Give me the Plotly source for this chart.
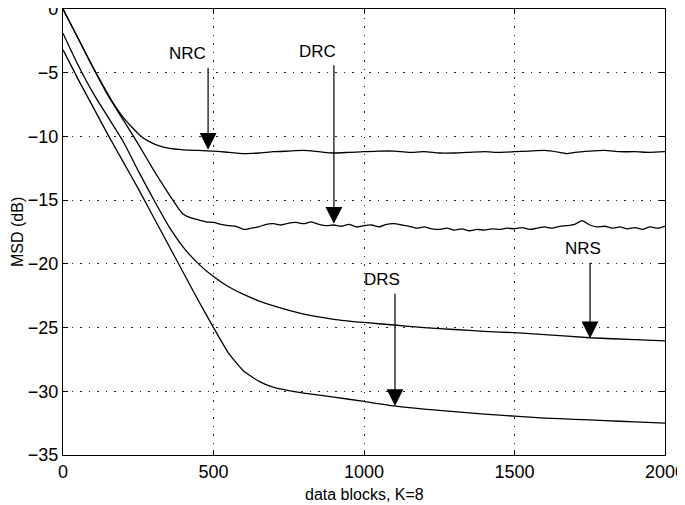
import plotly.graph_objects as go

# ---------------- data ----------------
nrc_x = [0, 50, 100, 140, 170, 200, 230, 260, 290, 320, 350, 400, 450, 500, 550, 600, 650,
         700, 750, 800, 850, 900, 950, 1000, 1050, 1100, 1150, 1200, 1250, 1300, 1350, 1400,
         1450, 1500, 1550, 1600, 1650, 1675, 1700, 1750, 1800, 1850, 1900, 1950, 2000]
nrc_y = [0.0, -2.3, -4.6, -6.3, -7.5, -8.5, -9.3, -10.0, -10.45, -10.75, -10.92, -11.05, -11.1,
         -11.15, -11.25, -11.35, -11.3, -11.2, -11.15, -11.1, -11.2, -11.3, -11.25, -11.2, -11.15,
         -11.15, -11.25, -11.2, -11.3, -11.3, -11.25, -11.2, -11.25, -11.2, -11.15, -11.1, -11.25,
         -11.35, -11.25, -11.15, -11.1, -11.2, -11.2, -11.25, -11.2]

drc_x = [0, 50, 100, 150, 200, 250, 300, 340, 365, 385, 400, 425, 450, 475, 500, 525, 550, 575,
         600, 625, 650, 675, 700, 725, 750, 775, 800, 825, 850, 875, 900, 925, 950, 975, 1000,
         1025, 1050, 1075, 1100, 1125, 1150, 1175, 1200, 1225, 1250, 1275, 1300, 1325, 1350,
         1375, 1400, 1425, 1450, 1475, 1500, 1525, 1550, 1575, 1600, 1625, 1650, 1675, 1700,
         1725, 1750, 1775, 1800, 1825, 1850, 1875, 1900, 1925, 1950, 1975, 2000]
drc_y = [0.0, -2.3, -4.6, -6.8, -8.7, -10.6, -12.6, -14.1, -15.0, -15.7, -16.1, -16.4, -16.55,
         -16.7, -16.75, -16.9, -17.0, -17.05, -17.3, -17.2, -17.1, -16.9, -16.85, -16.95, -16.8,
         -16.75, -16.85, -16.7, -16.9, -17.0, -16.95, -17.05, -16.9, -17.1, -17.0, -16.95, -17.1,
         -16.9, -16.85, -16.95, -17.05, -17.2, -17.1, -17.25, -17.3, -17.2, -17.35, -17.25,
         -17.4, -17.3, -17.35, -17.25, -17.3, -17.2, -17.25, -17.15, -17.3, -17.2, -17.1, -17.2,
         -17.05, -17.0, -16.9, -16.6, -16.95, -17.1, -17.05, -17.2, -17.1, -17.25, -17.15, -17.3,
         -17.1, -17.2, -17.05]

nrs_x = [0, 50, 100, 150, 200, 250, 300, 350, 400, 450, 500, 550, 600, 650, 700, 800, 900,
         1000, 1100, 1200, 1300, 1400, 1500, 1600, 1750, 1900, 2000]
nrs_y = [-1.9, -4.4, -6.6, -8.5, -10.4, -12.7, -14.9, -17.0, -18.7, -20.0, -21.0, -21.8, -22.4,
         -22.9, -23.3, -23.95, -24.35, -24.6, -24.8, -25.0, -25.15, -25.3, -25.4, -25.55, -25.8,
         -25.95, -26.05]

drs_x = [0, 50, 100, 150, 200, 250, 300, 350, 400, 450, 500, 550, 600, 650, 700, 750, 800,
         900, 1000, 1100, 1200, 1300, 1400, 1500, 1600, 1700, 1800, 1900, 2000]
drs_y = [-3.2, -5.5, -7.7, -9.9, -12.0, -14.1, -16.3, -18.5, -20.7, -22.9, -25.0, -27.0, -28.4,
         -29.2, -29.7, -29.95, -30.15, -30.45, -30.8, -31.15, -31.4, -31.6, -31.8, -31.95, -32.1,
         -32.2, -32.3, -32.4, -32.5]

x_ticks = [0, 500, 1000, 1500, 2000]
y_ticks = [0, -5, -10, -15, -20, -25, -30, -35]

x_title = "data blocks, K=8"
y_title = "MSD (dB)"

# label: (text, label_x, label_y, arrow_x, tail_y, tip_y)
labels = [
    ("NRC", 415, -3.5, 482, -4.5, -11.05),
    ("DRC", 847, -3.35, 900, -4.3, -16.85),
    ("NRS", 1728, -18.8, 1751, -19.8, -25.85),
    ("DRS", 1060, -21.2, 1103, -22.2, -31.15),
]

# ---------------- figure ----------------
fig = go.Figure()
line_style = dict(color="black", width=1.3)
for xs, ys, name in [(nrc_x, nrc_y, "NRC"), (drc_x, drc_y, "DRC"),
                     (nrs_x, nrs_y, "NRS"), (drs_x, drs_y, "DRS")]:
    fig.add_trace(go.Scatter(x=xs, y=ys, mode="lines", name=name,
                             line=dict(shape="spline", smoothing=0.5, **line_style),
                             showlegend=False))

font_family = "Liberation Sans, Arial, Helvetica, sans-serif"
for text, lx, ly, axx, tail, tip in labels:
    fig.add_annotation(x=lx, y=ly, text=text, showarrow=False,
                       font=dict(family=font_family, size=17, color="black"),
                       xanchor="center", yanchor="middle")
    fig.add_annotation(x=axx, y=tip, ax=axx, ay=tail, axref="x", ayref="y",
                       xref="x", yref="y", text="", showarrow=True,
                       arrowhead=2, arrowsize=2.8, arrowwidth=1.2, arrowcolor="black")

# axis titles as annotations for precise placement
fig.add_annotation(x=0.5, y=0, xref="paper", yref="paper", text=x_title, showarrow=False,
                   xanchor="center", yanchor="middle", yshift=-39,
                   font=dict(family=font_family, size=16, color="black"))
fig.add_annotation(x=0, y=0.5, xref="paper", yref="paper", text=y_title, showarrow=False,
                   textangle=-90, xanchor="center", yanchor="middle", xshift=-46,
                   font=dict(family=font_family, size=16, color="black"))

axis_common = dict(showline=True, linecolor="black", linewidth=1.2, mirror="allticks",
                   ticks="inside", ticklen=5, tickcolor="black",
                   showgrid=True, gridcolor="#222222", gridwidth=1, griddash="1.5px,7px",
                   zeroline=False, automargin=False, ticklabeloverflow="allow",
                   tickfont=dict(family=font_family, size=18, color="black"))

fig.update_xaxes(range=[0, 2000], tickvals=x_ticks, ticktext=[str(v) for v in x_ticks],
                 **axis_common)
fig.update_yaxes(range=[-35, 0], tickvals=y_ticks,
                 ticktext=[("\u2212" + str(-v)) if v < 0 else "0" for v in y_ticks],
                 **axis_common)

# the page body adds an 8px offset, so the figure is sized/margined to compensate
fig.update_layout(width=677, height=497, paper_bgcolor="white", plot_bgcolor="white",
                  margin=dict(l=55, r=20, t=1, b=50), showlegend=False)

fig.write_html("out.html")
